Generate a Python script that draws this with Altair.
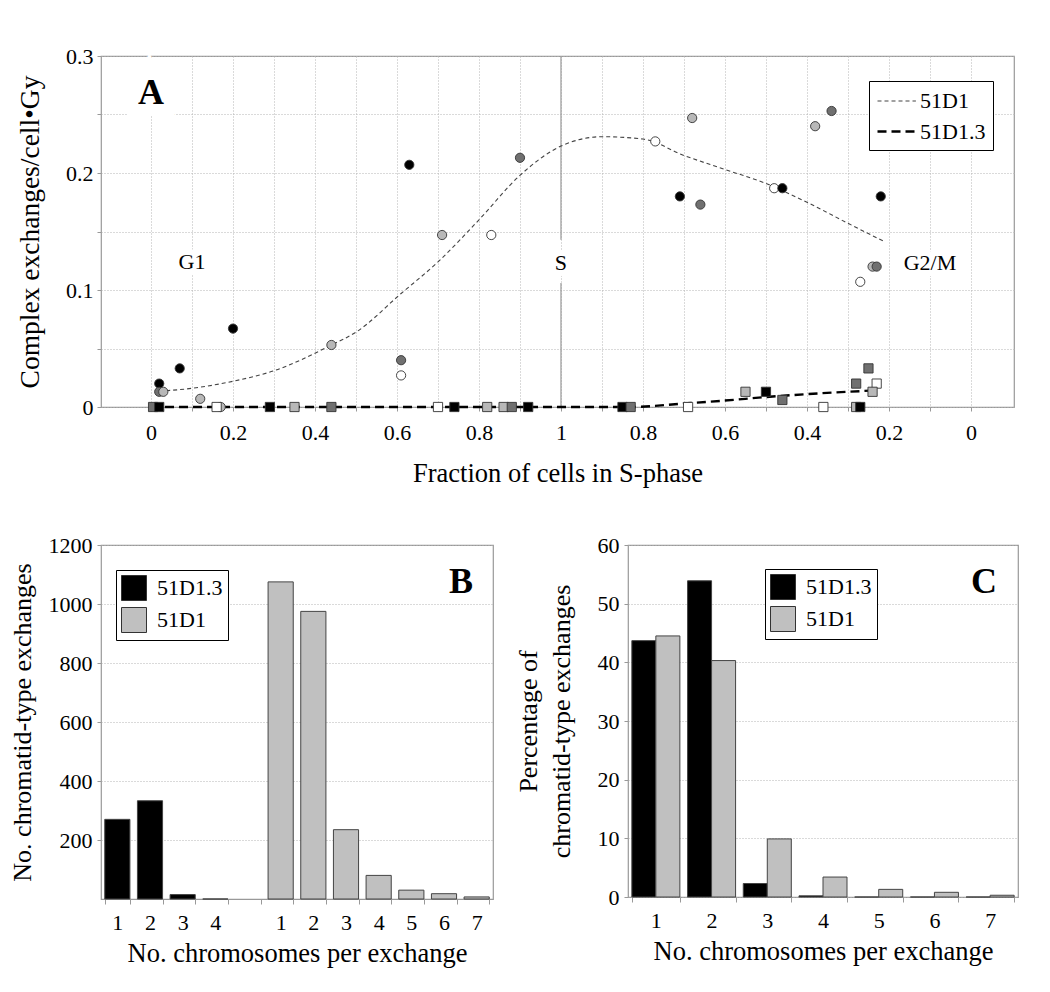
import altair as alt
import pandas as pd

FONT = "Liberation Serif"

# ---------------- Panel A data ----------------
# phase "in": G1 -> S (left half of axis), "out": S -> G2/M (right half)
circ_frac = [0.02, 0.02, 0.03, 0.07, 0.12, 0.20, 0.17, 0.44, 0.61, 0.61, 0.63, 0.71, 0.83, 0.90,
             0.77, 0.68, 0.71, 0.66, 0.48, 0.46, 0.38, 0.34, 0.22, 0.24, 0.23, 0.27]
circ_phase = ["in"] * 14 + ["out"] * 12
circ_val = [0.020, 0.013, 0.013, 0.033, 0.007, 0.067, 0.0, 0.053, 0.040, 0.027, 0.207, 0.147, 0.147, 0.213,
            0.227, 0.247, 0.180, 0.173, 0.187, 0.187, 0.240, 0.253, 0.180, 0.120, 0.120, 0.107]
circ_grp = ["I", "II", "III", "I", "III", "I", "III", "III", "II", "IV", "I", "III", "IV", "II",
            "IV", "III", "I", "II", "IV", "I", "III", "II", "I", "III", "II", "IV"]

sq_frac = [0.005, 0.02, 0.16, 0.29, 0.35, 0.44, 0.70, 0.74, 0.82, 0.86, 0.88, 0.92,
           0.85, 0.83, 0.69, 0.55, 0.50, 0.46, 0.36, 0.28, 0.27, 0.28, 0.25, 0.23, 0.24]
sq_phase = ["in"] * 12 + ["out"] * 13
sq_val = [0, 0, 0, 0, 0, 0, 0, 0, 0, 0, 0, 0,
          0, 0, 0, 0.013, 0.013, 0.006, 0, 0, 0, 0.020, 0.033, 0.020, 0.013]
sq_grp = ["II", "I", "IV", "I", "III", "II", "IV", "I", "III", "III", "II", "I",
          "I", "II", "IV", "III", "I", "II", "IV", "III", "I", "II", "II", "IV", "III"]

fit1_frac = [0.02, 0.1, 0.2, 0.3, 0.44, 0.5, 0.61, 0.7, 0.8, 0.9, 1.0,
             0.9, 0.8, 0.7, 0.6, 0.5, 0.4, 0.3, 0.215]
fit1_phase = ["in"] * 11 + ["out"] * 8
fit1_val = [0.0135, 0.016, 0.022, 0.031, 0.053, 0.064, 0.097, 0.124, 0.160, 0.198, 0.223,
            0.231, 0.229, 0.215, 0.203, 0.191, 0.175, 0.157, 0.142]

fit2_frac = [0.0, 0.5, 1.0, 0.83, 0.7, 0.6, 0.5, 0.4, 0.245]
fit2_phase = ["in", "in", "in", "out", "out", "out", "out", "out", "out"]
fit2_val = [0, 0, 0, 0, 0.003, 0.0055, 0.0085, 0.011, 0.014]

series_names = ["51D1", "51D1.3"]
groups = ["I", "II", "III", "IV"]
group_colors = ["#000000", "#707070", "#b8b8b8", "#ffffff"]

phase_labels = ["G1", "S", "G2/M"]
phase_label_frac = [0.1, 1.0, 0.1]
phase_label_phase = ["in", "in", "out"]
phase_label_val = [0.124, 0.123, 0.123]

# ---------------- Panel B data ----------------
b_chrom_53 = ["1", "2", "3", "4"]
b_count_53 = [270, 333, 15, 0]
b_chrom_51 = ["1", "2", "3", "4", "5", "6", "7"]
b_count_51 = [1075, 975, 235, 80, 30, 18, 7]

# ---------------- Panel C data ----------------
c_chrom = ["1", "2", "3", "4", "5", "6", "7"]
c_pct_53 = [43.7, 53.9, 2.3, 0.2, 0, 0, 0]
c_pct_51 = [44.5, 40.3, 9.9, 3.4, 1.3, 0.8, 0.3]

# ================= Panel A =================
circ = pd.DataFrame({"frac": circ_frac, "phase": circ_phase, "val": circ_val, "grp": circ_grp})
sq = pd.DataFrame({"frac": sq_frac, "phase": sq_phase, "val": sq_val, "grp": sq_grp})
curves = pd.concat([
    pd.DataFrame({"frac": fit1_frac, "phase": fit1_phase, "val": fit1_val, "series": "51D1"}),
    pd.DataFrame({"frac": fit2_frac, "phase": fit2_phase, "val": fit2_val, "series": "51D1.3"}),
], ignore_index=True)
labels_df = pd.DataFrame({"txt": phase_labels, "frac": phase_label_frac,
                          "phase": phase_label_phase, "val": phase_label_val})
srule = pd.DataFrame({"frac": [1.0, 1.0], "phase": ["in", "in"], "val": [0.0, 0.143], "val2": [0.106, 0.3]})

U = "datum.phase == 'in' ? datum.frac : 2 - datum.frac"

xa_vals = [round(0.1 * i, 1) for i in range(21)]
ya_vals = [round(0.05 * i, 2) for i in range(7)]

xA = alt.X("u:Q", scale=alt.Scale(domain=[-0.1220, 2.105], nice=False, zero=False),
           axis=alt.Axis(values=xa_vals, title="Fraction of cells in S-phase",
                         labelExpr="round(datum.value*10) % 2 == 0 ? format(datum.value <= 1 ? datum.value : 2 - datum.value, '.1~f') : ''",
                         tickSize=4, labelPadding=11, titlePadding=17, labelFontSize=22, titleFontSize=26.5))
yA = alt.Y("val:Q", scale=alt.Scale(domain=[0, 0.3], nice=False),
           axis=alt.Axis(values=ya_vals, title="Complex exchanges/cell•Gy",
                         labelExpr="round(datum.value*100) % 10 == 0 ? format(datum.value, '.1~f') : ''",
                         tickSize=4, labelPadding=4, titlePadding=21, labelFontSize=22, titleFontSize=27.5))

legA = alt.Legend(title=None, orient="none", legendX=768, legendY=25, fillColor="white",
                  strokeColor="black", padding=7, symbolType="M-1,0H2.2", symbolSize=576,
                  labelFontSize=22, labelFont=FONT, rowPadding=6, labelOffset=17)

lines = alt.Chart(curves).transform_calculate(u=U).mark_line(interpolate="monotone").encode(
    x=xA, y=yA, order="u:Q",
    strokeDash=alt.StrokeDash("series:N", scale=alt.Scale(domain=series_names, range=[[4, 3], [9, 5]]), legend=legA),
    strokeWidth=alt.StrokeWidth("series:N", scale=alt.Scale(domain=series_names, range=[1.1, 2.4]), legend=legA),
    color=alt.Color("series:N", scale=alt.Scale(domain=series_names, range=["#444444", "#000000"]), legend=legA),
)

fillA = alt.Fill("grp:N", scale=alt.Scale(domain=groups, range=group_colors), legend=None)
circles = alt.Chart(circ).transform_calculate(u=U).mark_point(
    shape="circle", filled=True, stroke="#333333", strokeWidth=0.9, size=85, opacity=1).encode(
    x=xA, y=yA, fill=fillA)
squares = alt.Chart(sq).transform_calculate(u=U).mark_point(
    shape="square", filled=True, stroke="#333333", strokeWidth=0.9, size=85, opacity=1).encode(
    x=xA, y=yA, fill=fillA)

srule_layer = alt.Chart(srule).transform_calculate(u=U).mark_rule(color="#999999", strokeWidth=1.2).encode(
    x=xA, y=yA, y2="val2:Q")

halo = alt.Chart(labels_df).transform_calculate(u=U).mark_text(
    font=FONT, fontSize=22, stroke="white", strokeWidth=12, fill="white").encode(x=xA, y=yA, text="txt:N")
phase_text = alt.Chart(labels_df).transform_calculate(u=U).mark_text(
    font=FONT, fontSize=22, color="black").encode(x=xA, y=yA, text="txt:N")

letter_df = pd.DataFrame({"t": ["A"]})
letterA_halo = alt.Chart(letter_df).mark_text(font=FONT, fontSize=36, fontWeight="bold", stroke="white",
                                              strokeWidth=22, fill="white").encode(
    x=alt.value(50), y=alt.value(37), text="t:N")
letterA = alt.Chart(letter_df).mark_text(font=FONT, fontSize=36, fontWeight="bold", color="black").encode(
    x=alt.value(50), y=alt.value(37), text="t:N")
# invisible anchor that fixes the left extent of the layout
anchorA = alt.Chart(letter_df).mark_point(size=1, opacity=0).encode(x=alt.value(-104), y=alt.value(150))

panelA = alt.layer(anchorA, srule_layer, halo, letterA_halo, lines, circles, squares, phase_text,
                   letterA).properties(width=913, height=351)

# ================= Panel B =================
dfB = pd.concat([
    pd.DataFrame({"series": "51D1.3", "chrom": b_chrom_53, "count": b_count_53}),
    pd.DataFrame({"series": "51D1", "chrom": b_chrom_51, "count": b_count_51}),
], ignore_index=True)
slots = ["51D1.3|" + c for c in b_chrom_53] + ["|"] + ["51D1|" + c for c in b_chrom_51]

legB = alt.Legend(title=None, orient="none", legendX=15, legendY=25, fillColor="white",
                  strokeColor="black", padding=5, symbolType="square", symbolSize=625,
                  symbolStrokeColor="#333333", symbolStrokeWidth=1, symbolOpacity=1,
                  labelFontSize=22, labelFont=FONT, rowPadding=2, labelOffset=10)

barsB = alt.Chart(dfB).transform_calculate(slot="datum.series + '|' + datum.chrom").mark_bar(
    stroke="#444444", strokeWidth=1).encode(
    x=alt.X("slot:N", scale=alt.Scale(domain=slots, paddingInner=0.23, paddingOuter=0.115),
            axis=alt.Axis(title="No. chromosomes per exchange", labelExpr="split(datum.label, '|')[1]",
                          tickBand="extent", labelAngle=0, tickSize=5, labelPadding=8, titlePadding=7,
                          labelFontSize=22, titleFontSize=26.5)),
    y=alt.Y("count:Q", scale=alt.Scale(domain=[0, 1200], nice=False),
            axis=alt.Axis(title="No. chromatid-type exchanges", values=[200, 400, 600, 800, 1000, 1200],
                          format="d", tickSize=4, labelPadding=5, titlePadding=13, labelFontSize=22,
                          titleFontSize=26)),
    fill=alt.Fill("series:N", scale=alt.Scale(domain=["51D1.3", "51D1"], range=["#000000", "#c0c0c0"]), legend=legB),
)
letterB = alt.Chart(pd.DataFrame({"t": ["B"]})).mark_text(font=FONT, fontSize=36, fontWeight="bold").encode(
    x=alt.value(360), y=alt.value(37), text="t:N")
panelB = alt.layer(barsB, letterB).properties(width=392, height=354)

# ================= Panel C =================
dfC = pd.concat([
    pd.DataFrame({"series": "51D1.3", "chrom": c_chrom, "pct": c_pct_53}),
    pd.DataFrame({"series": "51D1", "chrom": c_chrom, "pct": c_pct_51}),
], ignore_index=True)

legC = alt.Legend(title=None, orient="none", legendX=137, legendY=24, fillColor="white",
                  strokeColor="black", padding=5, symbolType="square", symbolSize=625,
                  symbolStrokeColor="#333333", symbolStrokeWidth=1, symbolOpacity=1,
                  labelFontSize=22, labelFont=FONT, rowPadding=2, labelOffset=10)

barsC = alt.Chart(dfC).mark_bar(stroke="#444444", strokeWidth=1).encode(
    x=alt.X("chrom:N", scale=alt.Scale(domain=c_chrom, paddingInner=0.138, paddingOuter=0.069),
            axis=alt.Axis(title="No. chromosomes per exchange", tickBand="extent", labelAngle=0,
                          tickSize=5, labelPadding=8, titlePadding=7, labelFontSize=22, titleFontSize=26.5)),
    xOffset=alt.XOffset("series:N", scale=alt.Scale(domain=["51D1.3", "51D1"], paddingInner=0, paddingOuter=0)),
    y=alt.Y("pct:Q", scale=alt.Scale(domain=[0, 60], nice=False),
            axis=alt.Axis(title=["Percentage of", "chromatid-type exchanges"], values=[0, 10, 20, 30, 40, 50, 60],
                          tickSize=4, labelPadding=5, titlePadding=23, titleLineHeight=33,
                          labelFontSize=22, titleFontSize=26)),
    fill=alt.Fill("series:N", scale=alt.Scale(domain=["51D1.3", "51D1"], range=["#000000", "#c0c0c0"]), legend=legC),
)
letterC = alt.Chart(pd.DataFrame({"t": ["C"]})).mark_text(font=FONT, fontSize=36, fontWeight="bold").encode(
    x=alt.value(356), y=alt.value(37), text="t:N")
panelC = alt.layer(barsC, letterC).properties(width=390, height=352)

# ================= Layout =================
indep = dict(fill="independent", color="independent", strokeDash="independent", strokeWidth="independent")

bottom = alt.hconcat(panelB, panelC, spacing=20).resolve_scale(**indep).resolve_legend(**indep)

chart = alt.concat(panelA, bottom, columns=1, spacing=45, align="none").resolve_scale(**indep).resolve_legend(
    **indep).properties(
    padding={"left": -13, "top": 36, "right": 5, "bottom": 5}
).configure_view(stroke="#999999", strokeWidth=1.2).configure_axis(
    labelFont=FONT, titleFont=FONT, labelColor="black", titleColor="black",
    titleFontWeight="normal", domain=False, tickColor="#999999",
    gridColor="#b5b5b5", gridDash=[1, 2], gridWidth=1,
).configure_text(font=FONT)

chart.save("out.html", embed_options={"renderer": "svg", "actions": False})
